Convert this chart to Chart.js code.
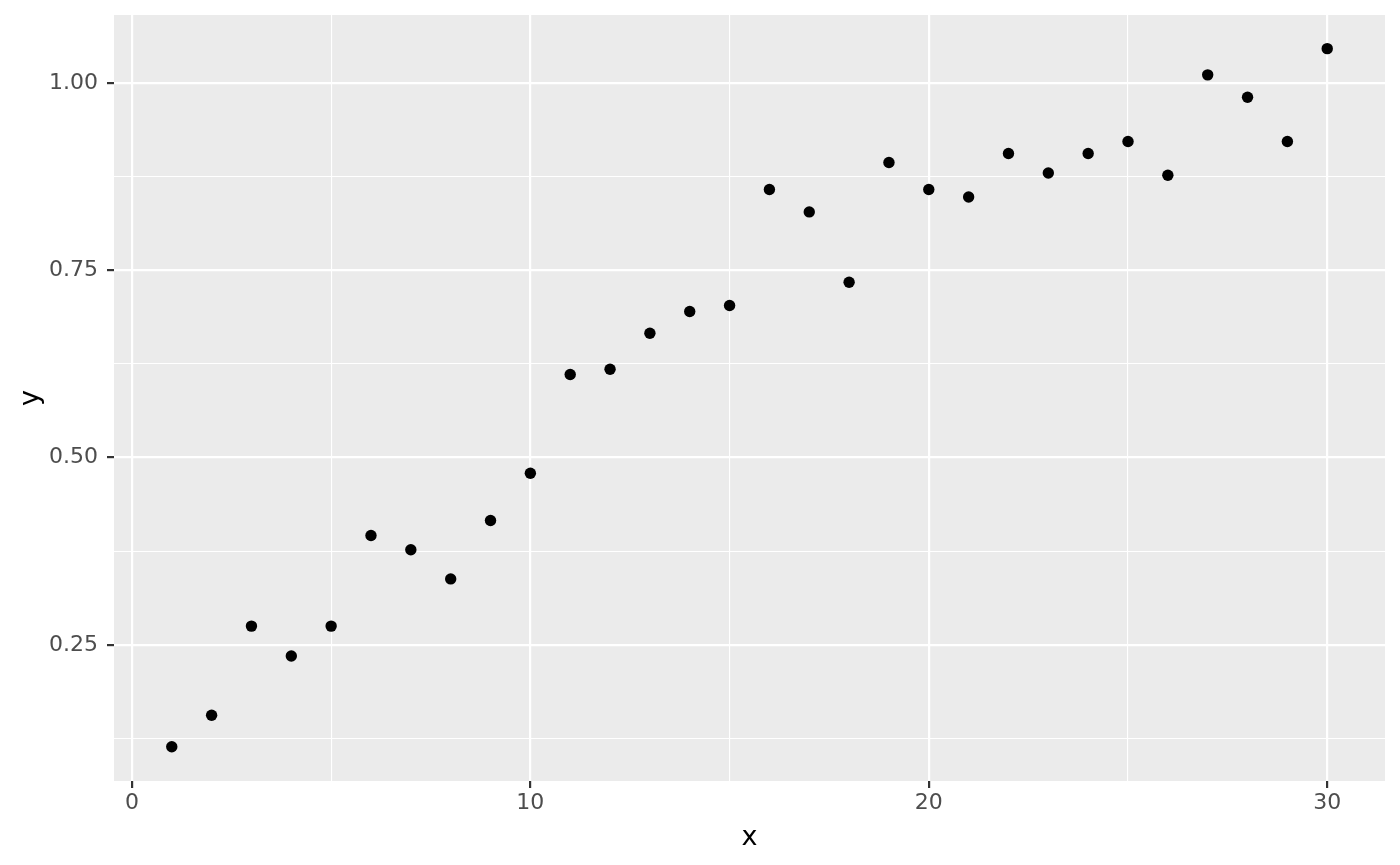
<!DOCTYPE html>
<html lang="en">
<head>
  <meta charset="UTF-8" />
  <title>Scatter x vs y</title>
  <script src="https://cdn.jsdelivr.net/npm/chart.js"></script>
  <style>
    html, body {
      margin: 0;
      padding: 0;
      background: #ffffff;
    }
    .wrap {
      width: 1400px;
      height: 865px;
    }
  </style>
</head>
<body>

<div class="wrap">
  <canvas id="plot" width="1400" height="865"></canvas>
</div>

<script>
  // values
  const xValues = [1, 2, 3, 4, 5, 6, 7, 8, 9, 10,
    11, 12, 13, 14, 15, 16, 17, 18, 19, 20,
    21, 22, 23, 24, 25, 26, 27, 28, 29, 30];
  const yValues = [0.114, 0.156, 0.275, 0.235, 0.275, 0.396, 0.377, 0.338, 0.416, 0.479,
    0.611, 0.618, 0.666, 0.695, 0.703, 0.858, 0.828, 0.734, 0.894, 0.858,
    0.848, 0.906, 0.880, 0.906, 0.922, 0.877, 1.011, 0.981, 0.922, 1.046];

  const xTicks = [0, 5, 10, 15, 20, 25, 30];
  const xLabeled = [0, 10, 20, 30];
  const yTicks = [0.125, 0.25, 0.375, 0.5, 0.625, 0.75, 0.875, 1.0];
  const yLabeled = [0.25, 0.5, 0.75, 1.0];

  const points = xValues.map((x, i) => ({ x: x, y: yValues[i] }));

  const isMajor = (list, v) => list.some(m => Math.abs(m - v) < 1e-9);

  const panelBg = {
    id: 'panelBg',
    beforeDraw(chart) {
      const a = chart.chartArea;
      const ctx = chart.ctx;
      ctx.save();
      ctx.fillStyle = '#EBEBEB';
      ctx.fillRect(a.left, a.top, a.right - a.left, a.bottom - a.top);
      ctx.restore();
    }
  };

  function gridFor(labeled) {
    return {
      color: '#FFFFFF',
      lineWidth: c => isMajor(labeled, c.tick.value) ? 2.2 : 1.1,
      tickColor: c => isMajor(labeled, c.tick.value) ? '#333333' : 'rgba(0,0,0,0)',
      tickWidth: 2.2,
      tickLength: 7
    };
  }

  new Chart(document.getElementById('plot'), {
    type: 'scatter',
    data: {
      datasets: [{
        data: points,
        backgroundColor: '#000000',
        borderColor: '#000000',
        pointRadius: 5.7,
        pointHoverRadius: 5.7,
        borderWidth: 0
      }]
    },
    options: {
      responsive: false,
      animation: false,
      layout: { padding: { top: 15, right: 15, left: 0, bottom: 0 } },
      plugins: {
        legend: { display: false },
        tooltip: { enabled: false }
      },
      scales: {
        x: {
          type: 'linear',
          min: -0.45,
          max: 31.45,
          border: { display: false },
          grid: gridFor(xLabeled),
          afterBuildTicks: s => { s.ticks = xTicks.map(v => ({ value: v })); },
          afterFit: s => { s.height = 84; s.paddingLeft = 0; s.paddingRight = 0; },
          ticks: {
            autoSkip: false,
            maxRotation: 0,
            padding: 2,
            color: '#4D4D4D',
            font: { family: 'DejaVu Sans', size: 22 },
            callback: v => isMajor(xLabeled, v) ? String(v) : ''
          },
          title: {
            display: true,
            text: 'x',
            color: '#000000',
            font: { family: 'DejaVu Sans', size: 27 },
            padding: { top: 0, bottom: 11 }
          }
        },
        y: {
          type: 'linear',
          min: 0.0682,
          max: 1.0909,
          border: { display: false },
          grid: gridFor(yLabeled),
          afterBuildTicks: s => { s.ticks = yTicks.map(v => ({ value: v })); },
          afterFit: s => { s.width = 114; s.paddingTop = 0; s.paddingBottom = 0; },
          ticks: {
            autoSkip: false,
            padding: 9,
            color: '#4D4D4D',
            font: { family: 'DejaVu Sans', size: 22 },
            callback: v => isMajor(yLabeled, v) ? v.toFixed(2) : ''
          },
          title: {
            display: true,
            text: 'y',
            color: '#000000',
            font: { family: 'DejaVu Sans', size: 27 },
            padding: { top: 15, bottom: 0 }
          }
        }
      }
    },
    plugins: [panelBg]
  });
</script>

</body>
</html>
